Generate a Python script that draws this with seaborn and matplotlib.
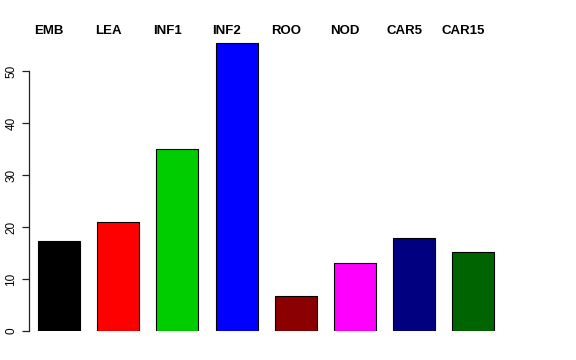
import matplotlib
matplotlib.use("Agg")
import matplotlib.pyplot as plt
import seaborn as sns
import pandas as pd

categories = ["EMB", "LEA", "INF1", "INF2", "ROO", "NOD", "CAR5", "CAR15"]
values = [17.3, 21.0, 35.0, 55.4, 6.7, 13.1, 17.9, 15.2]
colors = ["#000000", "#FF0000", "#00CD00", "#0000FF", "#8B0000", "#FF00FF", "#000080", "#006400"]
yticks = [0, 10, 20, 30, 40, 50]

sns.set_style("white")
plt.rcParams["font.family"] = ["Liberation Sans", "DejaVu Sans"]
plt.rcParams["text.color"] = "black"
plt.rcParams["ytick.color"] = "black"
plt.rcParams["axes.labelcolor"] = "black"

df = pd.DataFrame({"cat": categories, "val": values})

W, H = 576, 360
fig = plt.figure(figsize=(W / 100, H / 100), dpi=100)
px_unit = 5.2
ymax = 56
left_px, right_px, zero_px = 29, 540, 331
ax = fig.add_axes([left_px / W, (H - zero_px) / H, (right_px - left_px) / W, ymax * px_unit / H])

sns.barplot(data=df, x="cat", y="val", hue="cat", palette=dict(zip(categories, colors)),
            width=0.71, edgecolor="black", linewidth=0.8, legend=False, ax=ax, saturation=1)

spacing = 59.2
ax.set_xlim(-(59 - left_px) / spacing, (right_px - 59) / spacing)
ax.set_ylim(0, ymax)
for s in ["top", "right", "bottom"]:
    ax.spines[s].set_visible(False)
ax.spines["left"].set_bounds(0, 50)
ax.spines["left"].set_color("#222222")
ax.spines["left"].set_linewidth(0.9)
ax.set_yticks(yticks)
ax.set_yticklabels([str(t) for t in yticks], rotation=90, va="center", fontsize=8.5, color="black")
ax.tick_params(axis="y", length=5, width=0.9, color="#222222", labelcolor="black", pad=3.5, left=True)
ax.set_xticks([])
ax.set_xlabel("")
ax.set_ylabel("")

label_y = (zero_px - 34) / (ymax * px_unit)
for i, c in enumerate(categories):
    ax.text(i - 0.17, label_y, c, transform=ax.get_xaxis_transform(), ha="center", va="baseline",
            fontsize=9.5, fontweight="bold", color="black", clip_on=False)

fig.savefig("out.png", dpi=100)
